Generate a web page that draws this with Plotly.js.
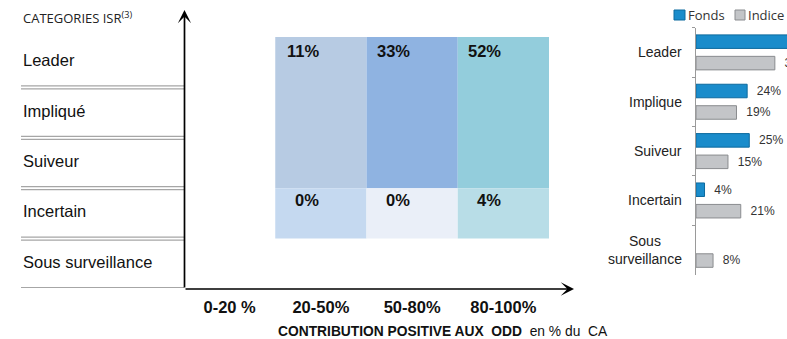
<!DOCTYPE html>
<html><head><meta charset="utf-8">
<script src="https://cdn.plot.ly/plotly-3.0.1.min.js"></script>
<style>html,body{margin:0;padding:0;background:#fff}</style>
</head><body>
<div id="chart" style="width:787px;height:339px"></div>
<script>
// ---------- data ----------
// Left matrix (rows listed bottom to top)
const rowLabels = ['Sous surveillance', 'Incertain', 'Suiveur', 'Impliqué', 'Leader'];
const contribCols = ['0-20 %', '20-50%', '50-80%', '80-100%'];
const topGroupRows = ['Leader', 'Impliqué', 'Suiveur'];
const topGroupPct = [null, 11, 33, 52];
const incertainPct = [null, 0, 0, 4];
// Right bar chart
const isrCats = ['Leader', 'Implique', 'Suiveur', 'Incertain', 'Sous surveillance'];
const fondsPct = [47, 24, 25, 4, null];
const indicePct = [37, 19, 15, 21, 8];

// ---------- layout helpers ----------
const W = 787, H = 339;
const px = v => v / W;
const py = v => 1 - v / H;

const topColors = ['#ffffff', '#b7cbe3', '#8fb3e1', '#93cddc'];
const botColors = ['#ffffff', '#c5d9f0', '#eaeff8', '#b8dde7'];

const topBase = rowLabels.indexOf('Suiveur');
const botBase = rowLabels.indexOf('Incertain');

const traces = [
  {
    type: 'bar', x: contribCols,
    y: topGroupPct.map(v => v == null ? null : topGroupRows.length),
    base: topBase, width: 1, offset: -0.5,
    marker: {color: topColors, line: {width: 0}},
    xaxis: 'x', yaxis: 'y', hoverinfo: 'skip', showlegend: false
  },
  {
    type: 'bar', x: contribCols,
    y: incertainPct.map(v => v == null ? null : 1),
    base: botBase, width: 1, offset: -0.5,
    marker: {color: botColors, line: {width: 0}},
    xaxis: 'x', yaxis: 'y', hoverinfo: 'skip', showlegend: false
  },
  {
    type: 'bar', orientation: 'h', name: 'Fonds',
    y: isrCats, x: fondsPct,
    text: fondsPct.map(v => v == null ? '' : '\u00a0\u00a0' + v + '%'),
    textposition: 'outside', cliponaxis: false,
    textfont: {family: 'Arial', size: 12.5, color: '#333'},
    marker: {color: '#1a8ccb', line: {color: '#0d6a9e', width: 1}},
    xaxis: 'x2', yaxis: 'y2', hoverinfo: 'skip', showlegend: false
  },
  {
    type: 'bar', orientation: 'h', name: 'Indice',
    y: isrCats, x: indicePct,
    text: indicePct.map(v => v == null ? '' : '\u00a0\u00a0' + v + '%'),
    textposition: 'outside', cliponaxis: false,
    textfont: {family: 'Arial', size: 12.5, color: '#333'},
    marker: {color: '#c3c5c8', line: {color: '#8a8c8f', width: 1}},
    xaxis: 'x2', yaxis: 'y2', hoverinfo: 'skip', showlegend: false
  }
];

const xL0 = 184, yL0 = 289;
const shapes = [];
const annotations = [];

// row separators (double grey lines)
for (let i = 0; i < rowLabels.length; i++) {
  [-1.5, 1.5].forEach(d => shapes.push({
    type: 'line', xref: 'paper', yref: 'y', x0: px(21), x1: px(xL0),
    ysizemode: 'pixel', yanchor: i, y0: d, y1: d,
    line: {color: '#a6a6a6', width: 1.2}
  }));
  annotations.push({
    xref: 'paper', yref: 'y', x: px(21), y: i + 0.5, xanchor: 'left', yanchor: 'middle', yshift: 2,
    text: rowLabels[i], showarrow: false,
    font: {family: 'Arial', size: 16.5, color: '#111'}
  });
}

// values in matrix cells
contribCols.forEach((c, j) => {
  if (topGroupPct[j] != null) annotations.push({
    xref: 'x', yref: 'y', x: c, y: topBase + topGroupRows.length, xanchor: 'right', yanchor: 'top',
    yshift: -3, text: '<b>' + topGroupPct[j] + '%</b>', showarrow: false,
    font: {family: 'Arial', size: 16.5, color: '#111'}
  });
  if (incertainPct[j] != null) annotations.push({
    xref: 'x', yref: 'y', x: c, y: botBase + 1, xanchor: 'right', yanchor: 'top',
    yshift: -1, text: '<b>' + incertainPct[j] + '%</b>', showarrow: false,
    font: {family: 'Arial', size: 16.5, color: '#111'}
  });
});

// axis arrows
annotations.push({
  xref: 'paper', yref: 'paper', x: px(xL0 + 0.5), y: py(10), ax: 0, ay: yL0 - 10, axref: 'pixel', ayref: 'pixel',
  text: '', showarrow: true, arrowhead: 3, arrowwidth: 1.7, arrowsize: 1.3, arrowcolor: '#000', standoff: 0
});
annotations.push({
  xref: 'paper', yref: 'paper', x: px(574), y: py(yL0), ax: -(574 - xL0), ay: 0, axref: 'pixel', ayref: 'pixel',
  text: '', showarrow: true, arrowhead: 3, arrowwidth: 1.7, arrowsize: 1.3, arrowcolor: '#000', standoff: 0
});

// titles
annotations.push({
  xref: 'paper', yref: 'paper', x: px(21), y: py(18), xanchor: 'left', yanchor: 'middle',
  text: 'CATEGORIES ISR<sup>(3)</sup>', showarrow: false,
  font: {family: 'Open Sans', size: 13, color: '#222'}
});
annotations.push({
  xref: 'paper', yref: 'paper', x: px(443), y: py(331), xanchor: 'center', yanchor: 'middle',
  text: '<b>CONTRIBUTION POSITIVE AUX\u00a0\u00a0ODD</b>\u00a0\u00a0en % du\u00a0\u00a0CA', showarrow: false,
  font: {family: 'Arial', size: 13.8, color: '#111'}
});

// right chart category labels
isrCats.forEach((c, i) => annotations.push({
  xref: 'paper', yref: 'y2', x: px(684), y: i, xanchor: 'right', yanchor: 'middle', align: 'center',
  text: c.replace(' ', '<br>'), showarrow: false,
  font: {family: 'Arial', size: 14, color: '#222'}
}));

// legend
shapes.push({type: 'rect', xref: 'paper', yref: 'paper', x0: px(674), x1: px(685), y0: py(20), y1: py(10),
  fillcolor: '#1a8ccb', line: {color: '#0d6a9e', width: 1}});
shapes.push({type: 'rect', xref: 'paper', yref: 'paper', x0: px(735), x1: px(745), y0: py(20), y1: py(10),
  fillcolor: '#c3c5c8', line: {color: '#8a8c8f', width: 1}});
annotations.push({xref: 'paper', yref: 'paper', x: px(686), y: py(15), xanchor: 'left', yanchor: 'middle',
  text: 'Fonds', showarrow: false, font: {family: 'Open Sans', size: 13, color: '#333'}});
annotations.push({xref: 'paper', yref: 'paper', x: px(746), y: py(15), xanchor: 'left', yanchor: 'middle',
  text: 'Indice', showarrow: false, font: {family: 'Open Sans', size: 13, color: '#333'}});

const layout = {
  width: W, height: H,
  margin: {l: 0, r: 0, t: 0, b: 0, pad: 0},
  paper_bgcolor: '#fff', plot_bgcolor: 'rgba(0,0,0,0)',
  barmode: 'group', bargap: 0.13, bargroupgap: 0.37,
  xaxis: {
    domain: [px(xL0), px(549)], anchor: 'y', type: 'category', range: [-0.5, 3.5],
    showgrid: false, zeroline: false, showline: false, ticks: '', ticklabelstandoff: 6,
    tickfont: {family: 'Arial', size: 16.5, color: '#111', weight: 'bold'}, fixedrange: true
  },
  yaxis: {
    domain: [py(yL0), py(37)], anchor: 'x', range: [0, rowLabels.length],
    showgrid: false, zeroline: false, showline: false, showticklabels: false, ticks: ''
  },
  xaxis2: {
    domain: [px(696), 1], anchor: 'y2', range: [0, 42.7], visible: false
  },
  yaxis2: {
    domain: [py(274.5), py(27.7)], anchor: 'x2', type: 'category', autorange: 'reversed',
    showline: true, linecolor: '#9a9a9a', linewidth: 1, ticks: 'outside', tickson: 'boundaries',
    ticklen: 3, tickcolor: '#9a9a9a', showticklabels: false, showgrid: false, zeroline: false
  },
  shapes: shapes,
  annotations: annotations
};

Plotly.newPlot('chart', traces, layout, {staticPlot: true, displayModeBar: false});
</script>
</body></html>
